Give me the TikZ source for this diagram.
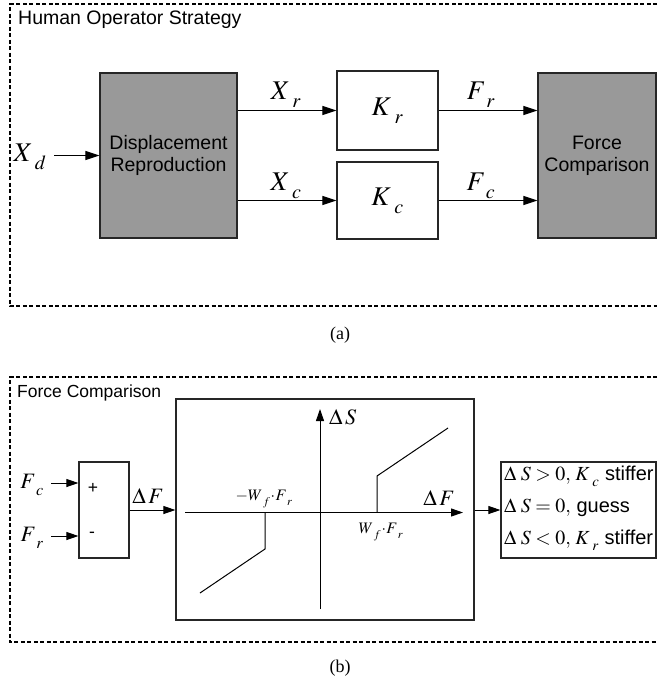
\documentclass[tikz,border=0pt]{standalone}
\usepackage{mathptmx}
\usepackage[no-math]{fontspec}
\setmainfont{Liberation Sans}
\newfontfamily\capserif{Liberation Serif}
\usetikzlibrary{arrows.meta}
\definecolor{boxgray}{HTML}{999999}
\newcommand\tsf{\fontsize{19.5}{22}\selectfont}
\newcommand\lsf{\fontsize{17.5}{20}\selectfont}
\newcommand\tmath{\fontsize{27}{30}\selectfont}
\newcommand\bmath{\fontsize{22}{24}\selectfont}
\newcommand\smath{\fontsize{16}{18}\selectfont}
\newcommand\rsf{\fontsize{20}{22}\selectfont}
\newcommand\capf{\capserif\fontsize{18}{20}\selectfont}
\newcommand\sbs[1]{_{\mkern5mu\raisebox{-0.15em}{$\scriptstyle #1$}}}
\tikzset{
  blk/.style={draw=black!85, line width=1.2pt, inner sep=0pt},
  grayblk/.style={blk, fill=boxgray},
  arr/.style={line width=0.9pt, -{Triangle[length=14pt,width=9pt]}},
  sarr/.style={line width=0.9pt, -{Triangle[length=12pt,width=8pt]}},
  frame/.style={line width=1.4pt, dash pattern=on 4pt off 2.5pt},
  axis/.style={line width=1pt},
  lbl/.style={inner sep=0pt}
}
\begin{document}
\begin{tikzpicture}[x=1pt,y=-1pt]
\useasboundingbox (0,0) rectangle (657,683);

% ---------- (a) ----------
\draw[frame] (657,4) -- (10,4) -- (10,306) -- (657,306);
\node[lbl, anchor=west, font=\tsf] (t1) at (18,20) {Human Operator Strategy};

\node[grayblk, minimum width=137pt, minimum height=165pt, align=center, font=\tsf] (dr) at (168.5,155.5) {Displacement\\Reproduction};
\node[blk, minimum width=101pt, minimum height=79pt, font=\tmath] (kr) at (387.5,110.5) {$K\sbs{r}$};
\node[blk, minimum width=101pt, minimum height=77pt, font=\tmath] (kc) at (387.5,200.5) {$K\sbs{c}$};
\node[grayblk, minimum width=118pt, minimum height=165pt, align=center, font=\tsf] (fcb) at (597,155.5) {Force\\Comparison};

\node[lbl, font=\tmath] (xd) at (30,157) {$X\sbs{d}$};
\coordinate (xds) at (54,155.5);
\draw[arr] (xds) -- (dr.west);

\draw[arr] (dr.east |- kr) -- (kr.west);
\draw[arr] (dr.east |- kc) -- (kc.west);
\draw[arr] (kr.east) -- (fcb.west |- kr.east);
\draw[arr] (kc.east) -- (fcb.west |- kc.east);

\node[lbl, font=\tmath] (xr) at (286,95) {$X\sbs{r}$};
\node[lbl, font=\tmath] (xc) at (286,186) {$X\sbs{c}$};
\node[lbl, font=\tmath] (fr) at (481,95) {$F\sbs{r}$};
\node[lbl, font=\tmath] (fc) at (481,186) {$F\sbs{c}$};

\node[lbl, font=\capf] (capa) at (340,335) {(a)};

% ---------- (b) ----------
\draw[frame] (657,377) -- (10,377) -- (10,642) -- (657,642);
\node[lbl, anchor=west, font=\lsf] (t2) at (17,393) {Force Comparison};

\node[blk, minimum width=50pt, minimum height=96pt] (sum) at (104,510) {};
\node[lbl, font=\lsf] (plus) at (93,488) {+};
\node[lbl, font=\lsf] (minus) at (92,535) {-};

\node[lbl, font=\bmath] (fcl) at (32,485) {$F\sbs{c}$};
\node[lbl, font=\bmath] (frl) at (32,538) {$F\sbs{r}$};
\coordinate (fcs) at (51,483);
\coordinate (frs) at (51,536);
\draw[sarr] (fcs) -- (sum.west |- fcs);
\draw[sarr] (frs) -- (sum.west |- frs);

\node[blk, minimum width=298pt, minimum height=221pt] (big) at (325,509.5) {};
\draw[sarr] (sum.east |- 0,510) -- (big.west |- 0,510);
\node[lbl, font=\bmath] (dfl) at (148,496) {$\Delta\,F$};

% axes
\coordinate (hx0) at (185,512.5);
\coordinate (hx1) at (463,512.5);
\coordinate (vy0) at (320,609);
\coordinate (vy1) at (320,409);
\draw[axis, -{Triangle[length=12pt,width=8pt]}] (hx0) -- (hx1);
\draw[axis, -{Triangle[length=12pt,width=8pt]}] (vy0) -- (vy1);
\node[lbl, anchor=west, font=\bmath] (dsl) at (329,417) {$\Delta\,S$};
\node[lbl, font=\bmath] (dfa) at (439,498) {$\Delta\,F$};

% characteristic
\coordinate (l0) at (265,512.5);
\coordinate (l1) at (265,549);
\coordinate (l2) at (200,593);
\coordinate (r0) at (377,512.5);
\coordinate (r1) at (377,476);
\coordinate (r2) at (448,428);
\draw[axis] (l0) -- (l1) -- (l2);
\draw[axis] (r0) -- (r1) -- (r2);
\node[lbl, font=\smath] (nwl) at (264,499) {$-W\sbs{f}\!\cdot\! F\sbs{r}$};
\node[lbl, font=\smath] (pwl) at (381,532) {$W\sbs{f}\!\cdot\! F\sbs{r}$};

% result
\node[blk, minimum width=155pt, minimum height=96pt] (res) at (578.5,510) {};
\draw[sarr] (big.east |- 0,510) -- (res.west |- 0,510);
\node[lbl, anchor=west, font=\rsf] (r1t) at (504,476) {$\Delta\;S>0,\,K\sbs{c}$ stiffer};
\node[lbl, anchor=west, font=\rsf] (r2t) at (504,508) {$\Delta\;S=0,$ guess};
\node[lbl, anchor=west, font=\rsf] (r3t) at (504,540) {$\Delta\;S<0,\,K\sbs{r}$ stiffer};

\node[lbl, font=\capf] (capb) at (340,668) {(b)};
\end{tikzpicture}
\end{document}
